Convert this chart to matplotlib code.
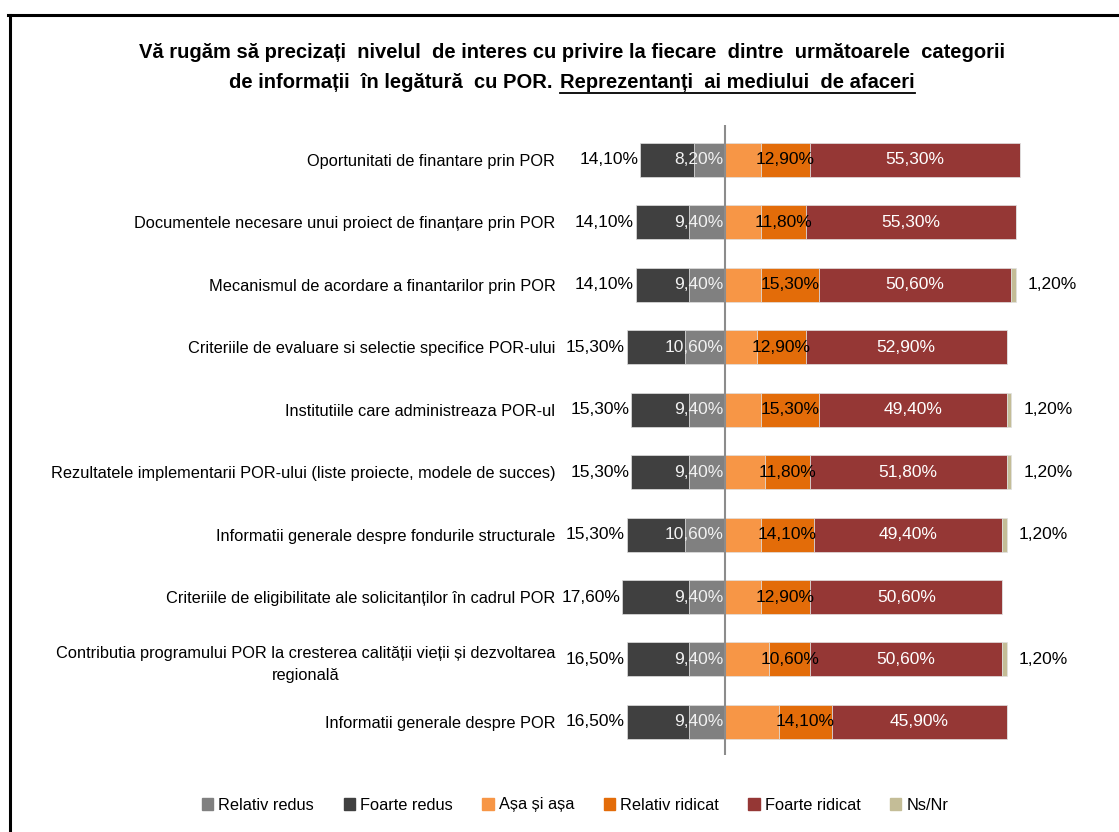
import matplotlib
matplotlib.use("Agg")
import matplotlib.pyplot as plt
from matplotlib import font_manager
from matplotlib.patches import Patch
from matplotlib.lines import Line2D

# categorii (de sus in jos)
categorii = [
    "Oportunitati de finantare prin POR",
    "Documentele necesare unui proiect de finanțare prin POR",
    "Mecanismul de acordare a finantarilor prin POR",
    "Criteriile de evaluare si selectie specifice POR-ului",
    "Institutiile care administreaza POR-ul",
    "Rezultatele implementarii POR-ului (liste proiecte, modele de succes)",
    "Informatii generale despre fondurile structurale",
    "Criteriile de eligibilitate ale solicitanților în cadrul POR",
    "Contributia programului POR la cresterea calității vieții și dezvoltarea\nregională",
    "Informatii generale despre POR",
]

foarte_redus = [14.1, 14.1, 14.1, 15.3, 15.3, 15.3, 15.3, 17.6, 16.5, 16.5]
relativ_redus = [8.2, 9.4, 9.4, 10.6, 9.4, 9.4, 10.6, 9.4, 9.4, 9.4]
asa_si_asa = [9.5, 9.4, 9.4, 8.3, 9.4, 10.5, 9.4, 9.5, 11.7, 14.1]
relativ_ridicat = [12.9, 11.8, 15.3, 12.9, 15.3, 11.8, 14.1, 12.9, 10.6, 14.1]
foarte_ridicat = [55.3, 55.3, 50.6, 52.9, 49.4, 51.8, 49.4, 50.6, 50.6, 45.9]
ns_nr = [0, 0, 1.2, 0, 1.2, 1.2, 1.2, 0, 1.2, 0]

culori = {
    "Relativ redus": "#808080",
    "Foarte redus": "#404040",
    "Așa și așa": "#F79646",
    "Relativ ridicat": "#E36C09",
    "Foarte ridicat": "#953735",
    "Ns/Nr": "#C4BD97",
}

# font ingust, cat se poate
fonturi = {f.name for f in font_manager.fontManager.ttflist}
if "Liberation Sans Narrow" in fonturi:
    plt.rcParams["font.family"] = ["Liberation Sans Narrow", "DejaVu Sans"]
    fs, nfs = 13.5, 14
else:
    plt.rcParams["font.family"] = ["Liberation Sans", "DejaVu Sans"]
    fs, nfs = 11.8, 12.5

W, H = 1119, 832
fig = plt.figure(figsize=(W / 100, H / 100), dpi=100)

# axa: centru la x=725px, ~3.8 px / %
x0px, x1px, cpx, scale = 565, 1100, 725, 3.8
ax = fig.add_axes([x0px / W, 1 - 755 / H, (x1px - x0px) / W, 630 / H])
ax.set_xlim((x0px - cpx) / scale, (x1px - cpx) / scale)
ax.set_ylim(9.53, -0.56)

y = list(range(len(categorii)))
h = 0.545
ec = dict(edgecolor="#e0e0e0", linewidth=0.5)

# stanga
ax.barh(y, [-v for v in relativ_redus], height=h, color=culori["Relativ redus"], **ec)
left_fr = [-r for r in relativ_redus]
ax.barh(y, [-v for v in foarte_redus], left=left_fr, height=h, color=culori["Foarte redus"], **ec)

# dreapta
ax.barh(y, asa_si_asa, height=h, color=culori["Așa și așa"], **ec)
st = list(asa_si_asa)
ax.barh(y, relativ_ridicat, left=st, height=h, color=culori["Relativ ridicat"], **ec)
st2 = [a + b for a, b in zip(st, relativ_ridicat)]
ax.barh(y, foarte_ridicat, left=st2, height=h, color=culori["Foarte ridicat"], **ec)
st3 = [a + b for a, b in zip(st2, foarte_ridicat)]
ax.barh(y, ns_nr, left=st3, height=h, color=culori["Ns/Nr"], **ec)


def fmt(v):
    return f"{v:.2f}".replace(".", ",") + "%"


px = 1 / scale
for i in y:
    left_end = -(relativ_redus[i] + foarte_redus[i])
    ax.text(left_end - 2 * px, i, fmt(foarte_redus[i]), ha="right", va="center", fontsize=nfs, color="black")
    ax.text(-2 * px, i, fmt(relativ_redus[i]), ha="right", va="center", fontsize=nfs, color="#f2f2f2")
    ax.text(st[i] + relativ_ridicat[i] / 2, i, fmt(relativ_ridicat[i]), ha="center", va="center",
            fontsize=nfs, color="black")
    ax.text(st2[i] + foarte_ridicat[i] / 2, i, fmt(foarte_ridicat[i]), ha="center", va="center",
            fontsize=nfs, color="white")
    if ns_nr[i] > 0:
        ax.text(st3[i] + ns_nr[i] + 12 * px, i, fmt(ns_nr[i]), ha="left", va="center", fontsize=nfs,
                color="black")

ax.axvline(0, color="#8c8c8c", lw=1.5)

ax.set_yticks(y)
ax.set_yticklabels(categorii, fontsize=fs, multialignment="center", linespacing=1.6)
ax.tick_params(axis="y", length=0, pad=7)
ax.set_xticks([])
for s in ax.spines.values():
    s.set_visible(False)

# titlu
cx = 572 / W
tfs = 14.5
fig.text(cx, 1 - 52 / H, "Vă rugăm să precizați  nivelul  de interes cu privire la fiecare  dintre  următoarele  categorii",
         ha="center", va="center", fontsize=tfs, fontweight="bold")
ta = fig.text(0, 1 - 82 / H, "de informații  în legătură  cu POR.", ha="left", va="center",
              fontsize=tfs, fontweight="bold")
tb = fig.text(0, 1 - 82 / H, "Reprezentanți  ai mediului  de afaceri", ha="left", va="center",
              fontsize=tfs, fontweight="bold")
fig.canvas.draw()
r = fig.canvas.get_renderer()
wa = ta.get_window_extent(r).width
wb = tb.get_window_extent(r).width
gap = 7
start = cx * W - (wa + gap + wb) / 2
ta.set_x(start / W)
tb.set_x((start + wa + gap) / W)
fig.canvas.draw()
bb = tb.get_window_extent(r)
fig.add_artist(Line2D([bb.x0 / W, bb.x1 / W], [(bb.y0 - 1) / H] * 2, color="black", lw=1.3,
                      transform=fig.transFigure))

# legenda
handles = [Patch(color=c, label=k) for k, c in culori.items()]
fig.legend(handles=handles, loc="center", bbox_to_anchor=(575 / W, 1 - 805 / H), ncol=6, frameon=False,
           fontsize=fs, handlelength=0.7, handleheight=0.7, handletextpad=0.3, columnspacing=1.8)

# chenar (iese din imagine la dreapta si jos)
fig.add_artist(Line2D([9.5 / W, 9.5 / W], [0, 1 - 14.5 / H], color="black", lw=2.2, transform=fig.transFigure))
fig.add_artist(Line2D([8 / W, 1], [1 - 14.5 / H] * 2, color="black", lw=2.2, transform=fig.transFigure))

fig.savefig("out.png", dpi=100)
